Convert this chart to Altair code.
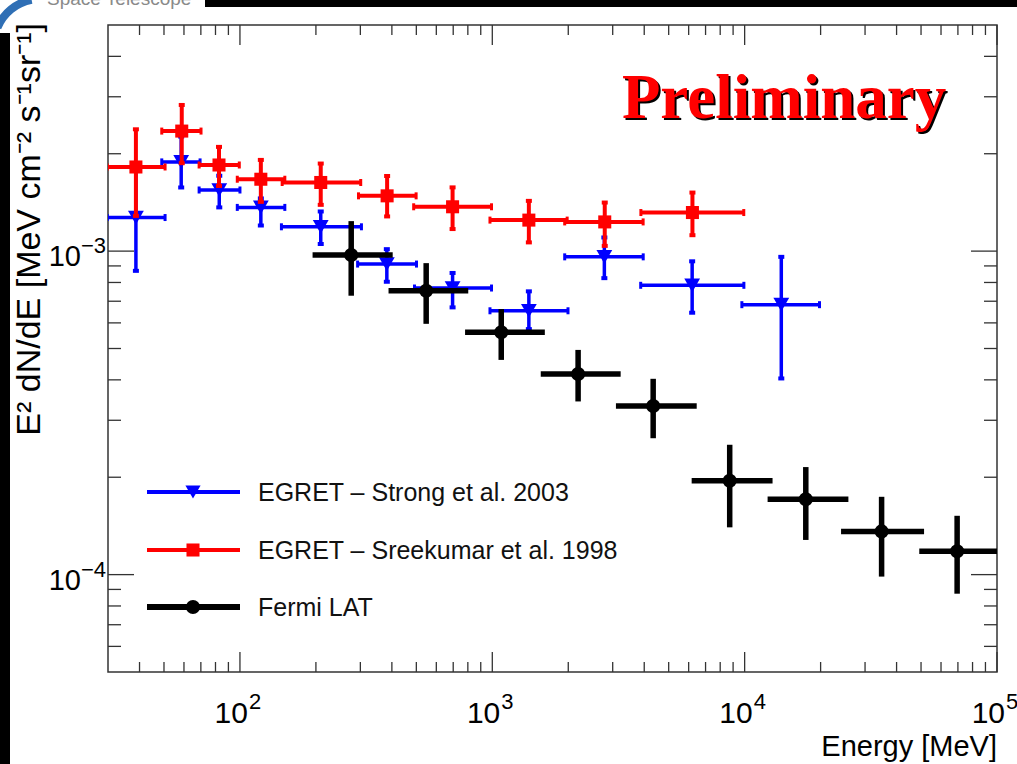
import altair as alt
import pandas as pd

# ---------------- data ----------------
# Fermi LAT
fermi_E    = [276, 547, 1085, 2188, 4340, 8725, 17470, 34890, 69500]
fermi_E_lo = [194, 388, 780, 1556, 3090, 6166, 12330, 24100, 49200]
fermi_E_hi = [403, 803, 1615, 3226, 6457, 12900, 25770, 51400, 102000]
fermi_F    = [9.72e-4, 7.54e-4, 5.61e-4, 4.17e-4, 3.32e-4, 1.95e-4, 1.71e-4, 1.36e-4, 1.18e-4]
fermi_F_lo = [7.28e-4, 5.96e-4, 4.61e-4, 3.43e-4, 2.64e-4, 1.40e-4, 1.28e-4, 9.86e-5, 8.73e-5]
fermi_F_hi = [1.238e-3, 9.18e-4, 6.62e-4, 4.95e-4, 4.03e-4, 2.52e-4, 2.15e-4, 1.74e-4, 1.52e-4]

# EGRET - Strong et al. 2003
strong_E    = [38.7, 58.5, 82.8, 121, 209, 382, 696, 1396, 2780, 6194, 13970]
strong_E_lo = [29.8, 49.0, 68.9, 97.6, 146, 292.6, 491.7, 979, 1936, 3873, 9750]
strong_E_hi = [50.5, 69.5, 100, 150.6, 303, 500.7, 993, 1995, 3963, 9930, 19800]
strong_F    = [1.27e-3, 1.887e-3, 1.545e-3, 1.365e-3, 1.189e-3, 9.12e-4, 7.69e-4, 6.54e-4, 9.60e-4, 7.84e-4, 6.83e-4]
strong_F_lo = [8.69e-4, 1.573e-3, 1.365e-3, 1.20e-3, 1.052e-3, 8.04e-4, 6.70e-4, 5.74e-4, 8.25e-4, 6.45e-4, 4.04e-4]
strong_F_hi = [1.86e-3, 2.26e-3, 1.71e-3, 1.455e-3, 1.326e-3, 1.014e-3, 8.56e-4, 7.51e-4, 1.102e-3, 9.30e-4, 9.60e-4]

# EGRET - Sreekumar et al. 1998
sree_E    = [38.7, 58.8, 82.6, 121, 209, 383, 696, 1396, 2790, 6210]
sree_E_lo = [29.8, 49.0, 68.9, 97.6, 147, 295, 488, 979, 1936, 3880]
sree_E_hi = [50.5, 70.1, 99.4, 150.6, 301, 499, 993, 1980, 3960, 9920]
sree_F    = [1.82e-3, 2.35e-3, 1.846e-3, 1.668e-3, 1.63e-3, 1.482e-3, 1.371e-3, 1.247e-3, 1.231e-3, 1.316e-3]
sree_F_lo = [1.285e-3, 1.87e-3, 1.59e-3, 1.42e-3, 1.39e-3, 1.28e-3, 1.17e-3, 1.064e-3, 1.038e-3, 1.12e-3]
sree_F_hi = [2.38e-3, 2.83e-3, 2.10e-3, 1.914e-3, 1.865e-3, 1.707e-3, 1.574e-3, 1.43e-3, 1.413e-3, 1.517e-3]

series_names = ["EGRET \u2013 Strong et al. 2003", "EGRET \u2013 Sreekumar et al. 1998", "Fermi LAT"]
series_colors = ["#0000ff", "#ff0000", "#000000"]
series_shapes = ["triangle-down", "square", "circle"]

x_major = [100, 1000, 10000, 100000]
x_major_exp = ["2", "3", "4", "5"]
x_minor = [40, 50, 60, 70, 80, 90, 200, 300, 400, 500, 600, 700, 800, 900,
           2000, 3000, 4000, 5000, 6000, 7000, 8000, 9000,
           20000, 30000, 40000, 50000, 60000, 70000, 80000, 90000]
y_major = [1e-4, 1e-3]
y_major_exp = ["\u22124", "\u22123"]
y_minor = [6e-5, 7e-5, 8e-5, 9e-5, 2e-4, 3e-4, 4e-4, 5e-4, 6e-4, 7e-4, 8e-4, 9e-4,
           2e-3, 3e-3, 4e-3]

X_DOMAIN = [30, 100000]
Y_DOMAIN = [5e-5, 5e-3]
W, H = 889, 647
FONT = "Liberation Sans, Arial, Helvetica"

xs = alt.Scale(type="log", domain=X_DOMAIN, nice=False)
ys = alt.Scale(type="log", domain=Y_DOMAIN, nice=False)
noax = None


def frame(E, Elo, Ehi, F, Flo, Fhi):
    return pd.DataFrame({"E": E, "Elo": Elo, "Ehi": Ehi, "F": F, "Flo": Flo, "Fhi": Fhi})


def series_layers(df, color, shape, lw, msize, caps):
    base = alt.Chart(df)
    X = lambda f: alt.X(f, scale=xs, axis=noax)
    Y = lambda f: alt.Y(f, scale=ys, axis=noax)
    out = [
        base.mark_rule(color=color, strokeWidth=lw, clip=True).encode(x=X("Elo:Q"), x2="Ehi:Q", y=Y("F:Q")),
        base.mark_rule(color=color, strokeWidth=lw, clip=True).encode(x=X("E:Q"), y=Y("Flo:Q"), y2="Fhi:Q"),
    ]
    if caps:
        for fy in ["Flo:Q", "Fhi:Q"]:
            out.append(base.mark_tick(orient="horizontal", color=color, size=6, thickness=4,
                                      opacity=1, clip=True).encode(x=X("E:Q"), y=Y(fy)))
        for fx in ["Elo:Q", "Ehi:Q"]:
            out.append(base.mark_tick(orient="vertical", color=color, size=7, thickness=3,
                                      opacity=1, clip=True).encode(x=X(fx), y=Y("F:Q")))
    out.append(base.mark_point(shape=shape, filled=True, color=color, size=msize, opacity=1,
                               clip=True).encode(x=X("E:Q"), y=Y("F:Q")))
    return out


blue = series_layers(frame(strong_E, strong_E_lo, strong_E_hi, strong_F, strong_F_lo, strong_F_hi),
                     series_colors[0], series_shapes[0], 3.5, 250, True)
red = series_layers(frame(sree_E, sree_E_lo, sree_E_hi, sree_F, sree_F_lo, sree_F_hi),
                    series_colors[1], series_shapes[1], 4, 170, True)
black = series_layers(frame(fermi_E, fermi_E_lo, fermi_E_hi, fermi_F, fermi_F_lo, fermi_F_hi),
                      series_colors[2], series_shapes[2], 5.5, 200, False)

TICKC = "#333333"
# ---------------- ticks (inward, on all four sides) ----------------
xmaj = pd.DataFrame({"v": x_major, "e": x_major_exp})
xmin = pd.DataFrame({"v": x_minor})
ymaj = pd.DataFrame({"v": y_major, "e": y_major_exp})
ymin = pd.DataFrame({"v": y_minor})


def xticks(df, L):
    b = alt.Chart(df)
    return [
        b.mark_rule(color=TICKC, strokeWidth=1.3).encode(
            x=alt.X("v:Q", scale=xs, axis=noax), y=alt.value(H), y2=alt.value(H - L)),
        b.mark_rule(color=TICKC, strokeWidth=1.3).encode(
            x=alt.X("v:Q", scale=xs, axis=noax), y=alt.value(0), y2=alt.value(L)),
    ]


def yticks(df, L):
    b = alt.Chart(df)
    return [
        b.mark_rule(color=TICKC, strokeWidth=1.3).encode(
            y=alt.Y("v:Q", scale=ys, axis=noax), x=alt.value(0), x2=alt.value(L)),
        b.mark_rule(color=TICKC, strokeWidth=1.3).encode(
            y=alt.Y("v:Q", scale=ys, axis=noax), x=alt.value(W), x2=alt.value(W - L)),
    ]


ticks = xticks(xmaj, 20) + xticks(xmin, 10) + yticks(ymaj, 26) + yticks(ymin, 13)

# ---------------- tick labels ----------------
xl10 = alt.Chart(xmaj).mark_text(font=FONT, fontSize=30, align="right", baseline="alphabetic",
                                 dx=8, color="black").encode(
    x=alt.X("v:Q", scale=xs, axis=noax), y=alt.value(H + 51), text=alt.value("10"))
xlexp = alt.Chart(xmaj).mark_text(font=FONT, fontSize=22, align="left", baseline="alphabetic",
                                  dx=9, color="black").encode(
    x=alt.X("v:Q", scale=xs, axis=noax), y=alt.value(H + 37), text="e:N")
yl10 = alt.Chart(ymaj).mark_text(font=FONT, fontSize=29, align="right", baseline="alphabetic",
                                 dy=15, color="black").encode(
    y=alt.Y("v:Q", scale=ys, axis=noax), x=alt.value(-27), text=alt.value("10"))
ylexp = alt.Chart(ymaj).mark_text(font=FONT, fontSize=22, align="left", baseline="alphabetic",
                                  dy=2, color="black").encode(
    y=alt.Y("v:Q", scale=ys, axis=noax), x=alt.value(-27), text="e:N")

xtitle = alt.Chart(pd.DataFrame({"t": ["Energy [MeV]"]})).mark_text(
    font=FONT, fontSize=29, align="right", baseline="alphabetic", color="black").encode(
    x=alt.value(W), y=alt.value(H + 84), text="t:N")
ytitle = alt.Chart(pd.DataFrame({"t": ["E\u00b2 dN/dE [MeV cm\u207b\u00b2 s\u207b\u00b9sr\u207b\u00b9]"]})).mark_text(
    font=FONT, fontSize=34, align="right", baseline="middle", angle=270, color="black").encode(
    x=alt.value(-78), y=alt.value(-2), text="t:N")

# ---------------- "Preliminary" stamp ----------------
prelim_df = pd.DataFrame({"t": ["Preliminary"]})
prelim_shadow = alt.Chart(prelim_df).mark_text(
    font="Liberation Serif", fontWeight="bold", fontSize=63, align="center", baseline="alphabetic",
    color="black").encode(x=alt.value(678), y=alt.value(95), text="t:N")
prelim = alt.Chart(prelim_df).mark_text(
    font="Liberation Serif", fontWeight="bold", fontSize=63, align="center", baseline="alphabetic",
    color="#ff0000").encode(x=alt.value(676), y=alt.value(93), text="t:N")

# ---------------- legend ----------------
leg_y = [467, 525, 582]
leg_w = [4, 4, 6]
leg_s = [230, 170, 200]
leg_layers = []
for name, col, shp, yy, lw, ms in zip(series_names, series_colors, series_shapes, leg_y, leg_w, leg_s):
    d = pd.DataFrame({"t": [name]})
    leg_layers.append(alt.Chart(d).mark_rule(color=col, strokeWidth=lw).encode(
        x=alt.value(39), x2=alt.value(132), y=alt.value(yy)))
    leg_layers.append(alt.Chart(d).mark_point(shape=shp, filled=True, color=col, size=ms, opacity=1).encode(
        x=alt.value(85), y=alt.value(yy)))
    leg_layers.append(alt.Chart(d).mark_text(font=FONT, fontSize=25, align="left", baseline="middle",
                                             color="#111111").encode(
        x=alt.value(150), y=alt.value(yy + 1), text="t:N"))

# ---------------- slide decorations ----------------
deco = [
    alt.Chart(pd.DataFrame({"a": [0]})).mark_rect(color="black").encode(
        x=alt.value(205 - 108), x2=alt.value(1017 - 108), y=alt.value(-25), y2=alt.value(7 - 25)),
    alt.Chart(pd.DataFrame({"a": [0]})).mark_rect(color="black").encode(
        x=alt.value(-108), x2=alt.value(10 - 108), y=alt.value(33 - 25), y2=alt.value(764 - 25)),
    alt.Chart(pd.DataFrame({"a": [0]})).mark_text(font="Liberation Sans", fontSize=19, align="left",
                                                  baseline="alphabetic", color="#8a8a8a").encode(
        x=alt.value(47 - 108), y=alt.value(5 - 25), text=alt.value("Space Telescope")),
    alt.Chart(pd.DataFrame({"a": [0]})).mark_arc(color="#2f6fb5", radius=50, radius2=42,
                                                 theta=5.1, theta2=6.1).encode(
        x=alt.value(40 - 108), y=alt.value(45 - 25)),
]

chart = alt.layer(*(deco + ticks + blue + red + black + leg_layers +
                    [xl10, xlexp, yl10, ylexp, xtitle, ytitle, prelim_shadow, prelim])).properties(
    width=W, height=H,
    autosize=alt.AutoSizeParams(type="none"),
    padding={"left": 108, "top": 25, "right": 20, "bottom": 92},
    background="white",
).configure_view(stroke="#333333", strokeWidth=1.5)

chart.save("out.html", embed_options={"renderer": "svg", "actions": False})
